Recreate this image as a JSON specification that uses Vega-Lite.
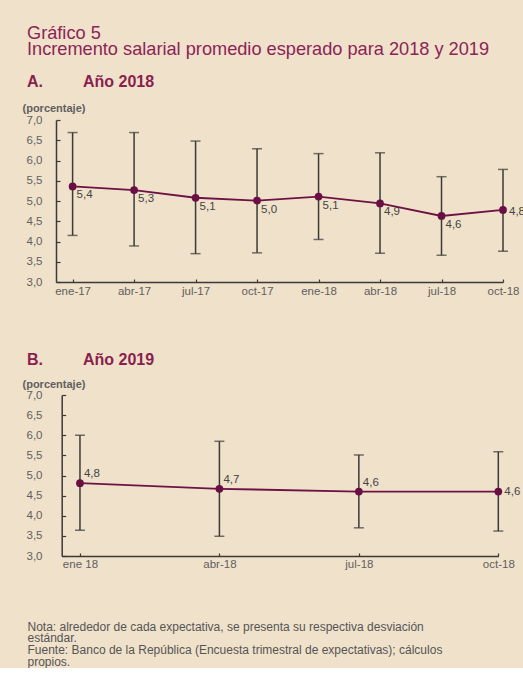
{
  "$schema": "https://vega.github.io/schema/vega-lite/v6.json",
  "background": "#EFE1CA",
  "padding": {"left": 22, "top": 24, "right": 0, "bottom": 0},
  "title": {
    "text": ["Gráfico 5", "Incremento salarial promedio esperado para 2018 y 2019"],
    "anchor": "start",
    "dx": 5,
    "font": "Liberation Sans",
    "fontSize": 18.2,
    "lineHeight": 15.5,
    "fontWeight": "normal",
    "color": "#8C2457",
    "offset": 15
  },
  "columns": 1,
  "align": "none",
  "spacing": 54,
  "concat": [
    {
      "width": 447,
      "height": 162,
      "title": {
        "text": "A.\u00a0\u00a0\u00a0\u00a0\u00a0\u00a0\u00a0\u00a0\u00a0Año 2018",
        "anchor": "start",
        "dx": 5,
        "font": "Liberation Sans",
        "fontSize": 16,
        "fontWeight": "bold",
        "color": "#8A1F4F",
        "offset": 12
      },
      "data": {
        "values": [
          {"i": 0, "mean": 5.36, "low": 4.15, "high": 6.69, "label": "5,4"},
          {"i": 1, "mean": 5.27, "low": 3.89, "high": 6.69, "label": "5,3"},
          {"i": 2, "mean": 5.08, "low": 3.70, "high": 6.48, "label": "5,1"},
          {"i": 3, "mean": 5.01, "low": 3.72, "high": 6.29, "label": "5,0"},
          {"i": 4, "mean": 5.11, "low": 4.05, "high": 6.17, "label": "5,1"},
          {"i": 5, "mean": 4.94, "low": 3.71, "high": 6.19, "label": "4,9"},
          {"i": 6, "mean": 4.63, "low": 3.66, "high": 5.60, "label": "4,6"},
          {"i": 7, "mean": 4.78, "low": 3.76, "high": 5.78, "label": "4,8"}
        ]
      },
      "encoding": {
        "x": {
          "field": "i",
          "type": "quantitative",
          "scale": {"domain": [-0.27, 7], "nice": false, "zero": false},
          "axis": {
            "values": [0, 1, 2, 3, 4, 5, 6, 7],
            "labelExpr": "['ene-17','abr-17','jul-17','oct-17','ene-18','abr-18','jul-18','oct-18'][datum.value]",
            "title": null,
            "grid": false,
            "domainColor": "#3a3a3a",
            "domainWidth": 1.5,
            "tickColor": "#3a3a3a",
            "tickSize": -3,
            "tickWidth": 1.2,
            "labelPadding": 6.5,
            "labelFlush": false,
            "labelOverlap": false,
            "labelFont": "Liberation Sans",
            "labelFontSize": 11.5,
            "labelColor": "#5f5f5f"
          }
        },
        "y": {
          "field": "mean",
          "type": "quantitative",
          "scale": {"domain": [3, 7], "nice": false, "zero": false},
          "axis": {
            "values": [3, 3.5, 4, 4.5, 5, 5.5, 6, 6.5, 7],
            "labelExpr": "replace(format(datum.value,'.1f'),'.',',')",
            "title": "(porcentaje)",
            "titleAngle": 0,
            "titleAlign": "left",
            "titleBaseline": "middle",
            "titleX": -34,
            "titleY": -12,
            "titleFont": "Liberation Sans",
            "titleFontSize": 11,
            "titleFontWeight": "bold",
            "titleColor": "#5f5f5f",
            "grid": false,
            "domainColor": "#3a3a3a",
            "domainWidth": 1.5,
            "tickColor": "#3a3a3a",
            "tickSize": -4,
            "tickWidth": 1.2,
            "labelPadding": 18,
            "labelFlush": false,
            "labelFont": "Liberation Sans",
            "labelFontSize": 11.5,
            "labelColor": "#5f5f5f"
          }
        }
      },
      "layer": [
        {
          "mark": {"type": "rule", "color": "#3a3a3a", "strokeWidth": 1.5},
          "encoding": {
            "y": {"field": "low", "type": "quantitative", "scale": {"domain": [3, 7], "nice": false, "zero": false}},
            "y2": {"field": "high"}
          }
        },
        {
          "mark": {"type": "tick", "orient": "horizontal", "color": "#3a3a3a", "thickness": 1.5, "size": 10},
          "encoding": {
            "y": {"field": "low", "type": "quantitative", "scale": {"domain": [3, 7], "nice": false, "zero": false}}
          }
        },
        {
          "mark": {"type": "tick", "orient": "horizontal", "color": "#3a3a3a", "thickness": 1.5, "size": 10},
          "encoding": {
            "y": {"field": "high", "type": "quantitative", "scale": {"domain": [3, 7], "nice": false, "zero": false}}
          }
        },
        {"mark": {"type": "line", "color": "#6E1246", "strokeWidth": 1.8}, "encoding": {}},
        {"mark": {"type": "point", "filled": true, "opacity": 1, "color": "#6A0F45", "size": 60}},
        {
          "transform": [{"filter": "datum.i < 7"}],
          "mark": {"type": "text", "align": "left", "baseline": "middle", "dx": 4, "dy": 9, "font": "Liberation Sans", "fontSize": 11.5, "color": "#444444"},
          "encoding": {"text": {"field": "label"}}
        },
        {
          "transform": [{"filter": "datum.i == 7"}],
          "mark": {"type": "text", "align": "left", "baseline": "middle", "dx": 6, "dy": 2, "font": "Liberation Sans", "fontSize": 11.5, "color": "#444444"},
          "encoding": {"text": {"field": "label"}}
        }
      ]
    },
    {
      "width": 442.3,
      "height": 161,
      "title": {
        "text": "B.\u00a0\u00a0\u00a0\u00a0\u00a0\u00a0\u00a0\u00a0\u00a0Año 2019",
        "anchor": "start",
        "dx": 5,
        "font": "Liberation Sans",
        "fontSize": 16,
        "fontWeight": "bold",
        "color": "#8A1F4F",
        "offset": 10.3
      },
      "data": {
        "values": [
          {"i": 0, "mean": 4.81, "low": 3.64, "high": 6.00, "label": "4,8"},
          {"i": 1, "mean": 4.67, "low": 3.49, "high": 5.85, "label": "4,7"},
          {"i": 2, "mean": 4.60, "low": 3.70, "high": 5.51, "label": "4,6"},
          {"i": 3, "mean": 4.60, "low": 3.62, "high": 5.59, "label": "4,6"}
        ]
      },
      "encoding": {
        "x": {
          "field": "i",
          "type": "quantitative",
          "scale": {"domain": [-0.131, 3], "range": [5.7, 442.3], "nice": false, "zero": false},
          "axis": {
            "values": [0, 1, 2, 3],
            "labelExpr": "['ene 18','abr-18','jul-18','oct-18'][datum.value]",
            "title": [
              "Nota: alrededor de cada expectativa, se presenta su respectiva desviación",
              "estándar.",
              "Fuente: Banco de la República (Encuesta trimestral de expectativas); cálculos",
              "propios."
            ],
            "titleAlign": "left",
            "titleBaseline": "top",
            "titleX": -29,
            "titleY": 65,
            "titleFont": "Liberation Sans",
            "titleFontSize": 12,
            "titleLineHeight": 11.8,
            "titleFontWeight": "normal",
            "titleColor": "#555555",
            "grid": false,
            "domainColor": "#3a3a3a",
            "domainWidth": 1.5,
            "tickColor": "#3a3a3a",
            "tickSize": -3,
            "tickWidth": 1.2,
            "labelPadding": 5,
            "labelFlush": false,
            "labelOverlap": false,
            "labelFont": "Liberation Sans",
            "labelFontSize": 11.5,
            "labelColor": "#5f5f5f"
          }
        },
        "y": {
          "field": "mean",
          "type": "quantitative",
          "scale": {"domain": [3, 7], "nice": false, "zero": false},
          "axis": {
            "values": [3, 3.5, 4, 4.5, 5, 5.5, 6, 6.5, 7],
            "labelExpr": "replace(format(datum.value,'.1f'),'.',',')",
            "offset": -5.7,
            "title": "(porcentaje)",
            "titleAngle": 0,
            "titleAlign": "left",
            "titleBaseline": "middle",
            "titleX": -39.7,
            "titleY": -11,
            "titleFont": "Liberation Sans",
            "titleFontSize": 11,
            "titleFontWeight": "bold",
            "titleColor": "#5f5f5f",
            "grid": false,
            "domainColor": "#3a3a3a",
            "domainWidth": 1.5,
            "tickColor": "#3a3a3a",
            "tickSize": -4,
            "tickWidth": 1.2,
            "labelPadding": 23.7,
            "labelFlush": false,
            "labelFont": "Liberation Sans",
            "labelFontSize": 11.5,
            "labelColor": "#5f5f5f"
          }
        }
      },
      "layer": [
        {
          "mark": {"type": "rule", "color": "#3a3a3a", "strokeWidth": 1.5},
          "encoding": {
            "y": {"field": "low", "type": "quantitative", "scale": {"domain": [3, 7], "nice": false, "zero": false}},
            "y2": {"field": "high"}
          }
        },
        {
          "mark": {"type": "tick", "orient": "horizontal", "color": "#3a3a3a", "thickness": 1.5, "size": 10},
          "encoding": {
            "y": {"field": "low", "type": "quantitative", "scale": {"domain": [3, 7], "nice": false, "zero": false}}
          }
        },
        {
          "mark": {"type": "tick", "orient": "horizontal", "color": "#3a3a3a", "thickness": 1.5, "size": 10},
          "encoding": {
            "y": {"field": "high", "type": "quantitative", "scale": {"domain": [3, 7], "nice": false, "zero": false}}
          }
        },
        {"mark": {"type": "line", "color": "#6E1246", "strokeWidth": 1.8}, "encoding": {}},
        {"mark": {"type": "point", "filled": true, "opacity": 1, "color": "#6A0F45", "size": 60}},
        {
          "transform": [{"filter": "datum.i < 3"}],
          "mark": {"type": "text", "align": "left", "baseline": "middle", "dx": 4, "dy": -9, "font": "Liberation Sans", "fontSize": 11.5, "color": "#444444"},
          "encoding": {"text": {"field": "label"}}
        },
        {
          "transform": [{"filter": "datum.i == 3"}],
          "mark": {"type": "text", "align": "left", "baseline": "middle", "dx": 6, "dy": 0, "font": "Liberation Sans", "fontSize": 11.5, "color": "#444444"},
          "encoding": {"text": {"field": "label"}}
        }
      ]
    }
  ],
  "config": {
    "view": {"stroke": null},
    "font": "Liberation Sans"
  }
}
